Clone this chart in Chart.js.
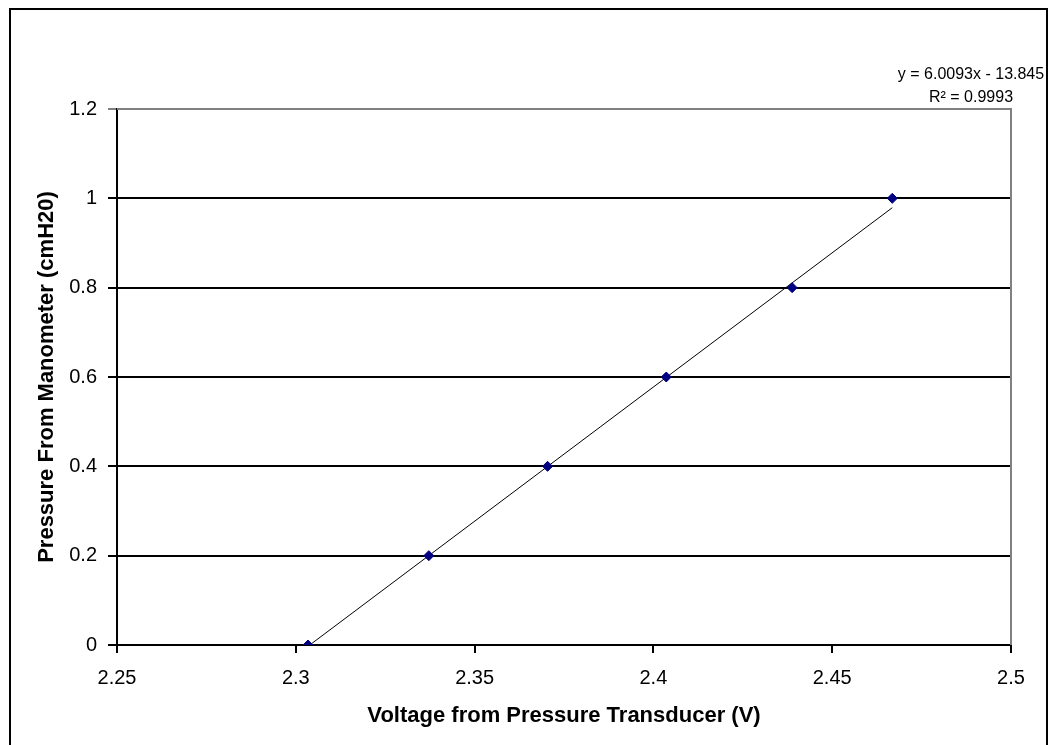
<!DOCTYPE html>
<html>
<head>
<meta charset="utf-8">
<title>Pressure vs Voltage</title>
<script src="https://cdn.jsdelivr.net/npm/chart.js@4.4.0/dist/chart.umd.min.js"></script>
<style>
    body { margin: 0; background: #fff; }
</style>
</head>
<body>
<canvas id="pressureChart" width="1050" height="745"></canvas>
<script>
const voltagem = [2.3034, 2.3372, 2.3704, 2.4036, 2.4388, 2.4668];
const pressao = [0, 0.2, 0.4, 0.6, 0.8, 1.0];

// Linha de tendência - extremos
const tendenciaX = [2.3034, 2.4668];
const tendenciaY = [-0.003, 0.979];

// Textos
const tituloX = 'Voltage from Pressure Transducer (V)';
const tituloY = 'Pressure From Manometer (cmH20)';
const equacao = ['y = 6.0093x - 13.845', 'R² = 0.9993'];

const fonte = "'Liberation Sans', Arial, sans-serif";

// Moldura externa, borda da área do gráfico e texto da equação
const moldura = {
    id: 'moldura',
    beforeDraw(chart) {
        const ctx = chart.ctx;
        ctx.save();
        ctx.fillStyle = '#fff';
        ctx.fillRect(0, 0, chart.width, chart.height);
        ctx.strokeStyle = '#000';
        ctx.lineWidth = 2;
        ctx.strokeRect(10, 9, 1037, 800);
        ctx.restore();
    },
    beforeDatasetsDraw(chart) {
        const a = chart.chartArea;
        const ctx = chart.ctx;
        ctx.save();
        ctx.strokeStyle = '#808080';
        ctx.lineWidth = 2;
        ctx.beginPath();
        ctx.moveTo(a.left, a.top);
        ctx.lineTo(a.right, a.top);
        ctx.lineTo(a.right, a.bottom);
        ctx.stroke();
        ctx.restore();
    },
    afterDraw(chart) {
        const ctx = chart.ctx;
        ctx.save();
        ctx.fillStyle = '#000';
        ctx.font = '16px ' + fonte;
        ctx.textAlign = 'center';
        ctx.textBaseline = 'middle';
        ctx.fillText(equacao[0], 971, 75);
        ctx.fillText(equacao[1], 971, 98);
        ctx.restore();
    }
};

const formatar = v => Number(v.toFixed(2)).toString();

const ctx = document.getElementById('pressureChart').getContext('2d');
new Chart(ctx, {
    type: 'scatter',
    data: {
        datasets: [{
            label: 'Pontos',
            data: voltagem.map((v, i) => ({ x: v, y: pressao[i] })),
            backgroundColor: '#000080',
            borderColor: '#000080',
            pointStyle: 'rectRot',
            pointRadius: 5,
            showLine: false
        }, {
            label: 'Tendência',
            data: tendenciaX.map((v, i) => ({ x: v, y: tendenciaY[i] })),
            borderColor: '#000',
            borderWidth: 1,
            pointRadius: 0,
            showLine: true
        }]
    },
    options: {
        responsive: false,
        animation: false,
        devicePixelRatio: 1,
        layout: {
            padding: { top: 109, right: 39, left: 0, bottom: 0 }
        },
        plugins: {
            legend: { display: false },
            tooltip: { enabled: false }
        },
        scales: {
            x: {
                type: 'linear',
                min: 2.25,
                max: 2.5,
                afterFit: scale => { scale.height = 100; },
                grid: {
                    drawOnChartArea: false,
                    drawTicks: true,
                    tickLength: 8,
                    color: '#000',
                    lineWidth: 2
                },
                border: { display: true, color: '#000', width: 2 },
                ticks: {
                    stepSize: 0.05,
                    padding: 13,
                    maxRotation: 0,
                    color: '#000',
                    font: { family: fonte, size: 20 },
                    callback: formatar
                },
                title: {
                    display: true,
                    text: tituloX,
                    color: '#000',
                    font: { family: fonte, size: 22, weight: 'bold' },
                    padding: { top: 0, bottom: 16 }
                }
            },
            y: {
                min: 0,
                max: 1.2,
                afterFit: scale => { scale.width = 117; },
                grid: {
                    color: c => (c.tick && c.tick.value === 1.2) ? '#808080' : '#000',
                    lineWidth: 2,
                    drawTicks: true,
                    tickLength: 9
                },
                border: { display: true, color: '#000', width: 2 },
                ticks: {
                    stepSize: 0.2,
                    padding: 11,
                    color: '#000',
                    font: { family: fonte, size: 20 },
                    callback: formatar
                },
                title: {
                    display: true,
                    text: tituloY,
                    color: '#000',
                    font: { family: fonte, size: 22, weight: 'bold' },
                    padding: { top: 34, bottom: 0 }
                }
            }
        }
    },
    plugins: [moldura]
});
</script>
</body>
</html>
